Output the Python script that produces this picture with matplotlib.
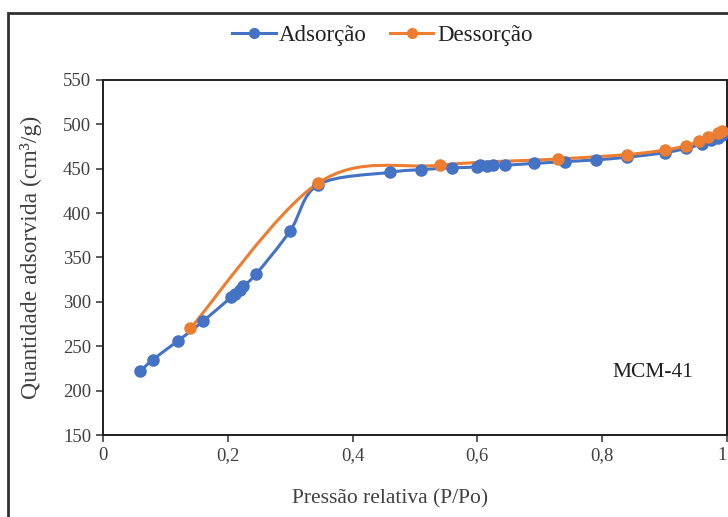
import numpy as np
import matplotlib.pyplot as plt
from matplotlib.path import Path
from matplotlib.patches import PathPatch, Rectangle

plt.rcParams['font.family'] = ['Liberation Serif', 'DejaVu Serif']

# Adsorção
ads_x = [0.06, 0.08, 0.12, 0.16, 0.205, 0.212, 0.22, 0.225, 0.245, 0.30, 0.345,
         0.46, 0.51, 0.56, 0.60, 0.605, 0.615, 0.625, 0.645, 0.69, 0.74, 0.79,
         0.84, 0.90, 0.935, 0.96, 0.975, 0.985, 0.992]
ads_y = [222, 235, 256, 278, 305, 309, 313, 318, 331, 380, 432,
         446, 449, 451, 452, 454, 453, 454, 454, 456, 458, 460,
         463, 468, 473, 478, 482, 485, 488]

# Dessorção
des_x = [0.14, 0.345, 0.54, 0.73, 0.84, 0.90, 0.935, 0.955, 0.97, 0.985, 0.992]
des_y = [270, 434, 454, 461, 466, 471, 476, 481, 486, 490, 492]

blue = '#4472C4'
orange = '#ED7D31'


def smooth_path(x, y):
    # Bezier path through the points (Excel-style smoothed line)
    pts = np.column_stack([x, y]).astype(float)
    verts = [pts[0]]
    codes = [Path.MOVETO]
    n = len(pts)
    for i in range(n - 1):
        p0 = pts[i - 1] if i > 0 else pts[i]
        p1 = pts[i]
        p2 = pts[i + 1]
        p3 = pts[i + 2] if i + 2 < n else pts[i + 1]
        c1 = p1 + (p2 - p0) / 6.0
        c2 = p2 - (p3 - p1) / 6.0
        verts += [c1, c2, p2]
        codes += [Path.CURVE4] * 3
    return Path(verts, codes)


fig = plt.figure(figsize=(7.28, 5.17), dpi=100)
ax = fig.add_axes([0.1415, 0.1586, 0.857, 0.6867])

for x, y, col in [(ads_x, ads_y, blue), (des_x, des_y, orange)]:
    ax.add_patch(PathPatch(smooth_path(x, y), facecolor='none', edgecolor=col,
                           lw=2.2, zorder=3))
    ax.plot(x, y, 'o', color=col, ms=8, zorder=4)

# legend handles
ax.plot([], [], '-o', color=blue, lw=2.2, ms=7, label='Adsorção')
ax.plot([], [], '-o', color=orange, lw=2.2, ms=7, label='Dessorção')

ax.set_xlim(0, 1)
ax.set_ylim(150, 550)
ax.set_xticks([0, 0.2, 0.4, 0.6, 0.8, 1])
ax.set_xticklabels(['0', '0,2', '0,4', '0,6', '0,8', '1'])
ax.set_yticks(range(150, 551, 50))
ax.tick_params(labelsize=13.5, colors='#404040', length=5, width=1.2)
ax.tick_params(axis='both', labelcolor='#404040')
ax.get_xticklabels()[-1].set_ha('right')
for s in ax.spines.values():
    s.set_linewidth(1.4)
    s.set_color('#202020')

ax.set_xlabel('Pressão relativa (P/Po)', fontsize=15.5, color='#404040')
ax.xaxis.set_label_coords(0.46, -0.152)
ax.set_ylabel('Quantidade adsorvida (cm³/g)', fontsize=17, color='#404040')
ax.yaxis.set_label_coords(-0.097, 0.5)
ax.text(0.881, 220, 'MCM-41', fontsize=15.5, color='#202020', ha='center', va='center')

fig.legend(loc='center', bbox_to_anchor=(0.525, 0.932), ncol=2, frameon=False,
           fontsize=16.5, handlelength=1.9, columnspacing=1.0, handletextpad=0.15,
           labelcolor='#202020')

fig.patches.append(Rectangle((8 / 728, -0.1), 1.2, 1 - 13 / 517 + 0.1,
                             transform=fig.transFigure, fill=False,
                             edgecolor='#303030', lw=2))

fig.savefig('out.png', dpi=100)
